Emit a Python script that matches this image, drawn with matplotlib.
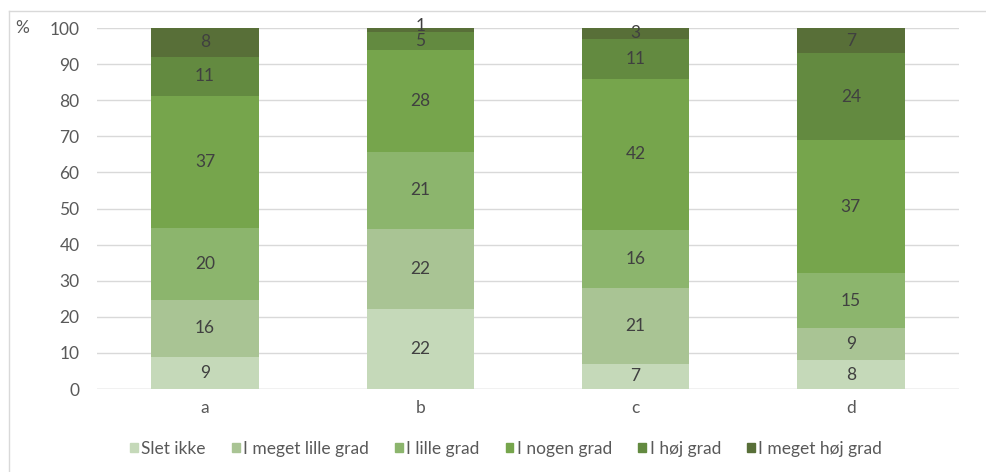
import matplotlib
matplotlib.use("Agg")
import matplotlib.pyplot as plt
import numpy as np
from matplotlib.lines import Line2D

categories = ["a", "b", "c", "d"]
series_names = ["Slet ikke", "I meget lille grad", "I lille grad", "I nogen grad", "I høj grad", "I meget høj grad"]
slet_ikke = [9, 22, 7, 8]
meget_lille = [16, 22, 21, 9]
lille = [20, 21, 16, 15]
nogen = [37, 28, 42, 37]
hoej = [11, 5, 11, 24]
meget_hoej = [8, 1, 3, 7]
colors = ["#c5d9b9", "#a9c494", "#8cb56d", "#76a54c", "#638a40", "#586f38"]
yticks = [0, 10, 20, 30, 40, 50, 60, 70, 80, 90, 100]

plt.rcParams['font.family'] = ['Lato', 'DejaVu Sans']
txt = "#595959"
fs = 12.5

fig = plt.figure(figsize=(9.87, 4.72), dpi=100)
ax = fig.add_axes([97.5/987, 1-389/472, (958.5-97.5)/987, (389-28)/472])

series = [slet_ikke, meget_lille, lille, nogen, hoej, meget_hoej]
data = np.array(series, dtype=float)
totals = data.sum(axis=0)
pct = data / totals * 100
x = np.arange(len(categories))
bottom = np.zeros(len(categories))
for i, (name, vals) in enumerate(zip(series_names, series)):
    ax.bar(x, pct[i], 0.5, bottom=bottom, color=colors[i], label=name, zorder=3)
    for j in range(len(categories)):
        yc = bottom[j] + pct[i][j] / 2
        if vals[j] == 1:
            yc = bottom[j] + pct[i][j] + 0.6
        ax.text(x[j], yc, str(vals[j]), ha="center", va="center", fontsize=fs, color="#404040", zorder=4)
    bottom += pct[i]

ax.set_xlim(-0.5, 3.5)
ax.set_ylim(0, 100)
ax.set_yticks(yticks)
ax.set_xticks(x)
ax.set_xticklabels(categories)
ax.tick_params(axis="both", length=0, labelsize=fs, colors=txt)
ax.tick_params(axis="y", pad=13)
ax.tick_params(axis="x", pad=8)
ax.grid(axis="y", color="#d9d9d9", linewidth=1, zorder=0)
for s in ax.spines.values():
    s.set_visible(False)
ax.axhline(0, color="#d9d9d9", linewidth=1, zorder=2)

fig.text(15/987, 1-28/472, "%", fontsize=fs, color=txt, va="center", ha="left")

handles = [plt.Rectangle((0, 0), 1, 1, color=c) for c in colors]
leg = fig.legend(handles, series_names, loc="center", bbox_to_anchor=(506/987, 1-449/472), ncol=6,
                 frameon=False, fontsize=fs, handlelength=0.45, handleheight=0.45, handletextpad=0.2,
                 columnspacing=1.5, labelcolor=txt)

fig.add_artist(Line2D([9/987, 1], [1-11/472, 1-11/472], color="#d9d9d9", linewidth=1, transform=fig.transFigure))
fig.add_artist(Line2D([9/987, 9/987], [0, 1-11/472], color="#d9d9d9", linewidth=1, transform=fig.transFigure))

fig.savefig("out.png", dpi=100)
